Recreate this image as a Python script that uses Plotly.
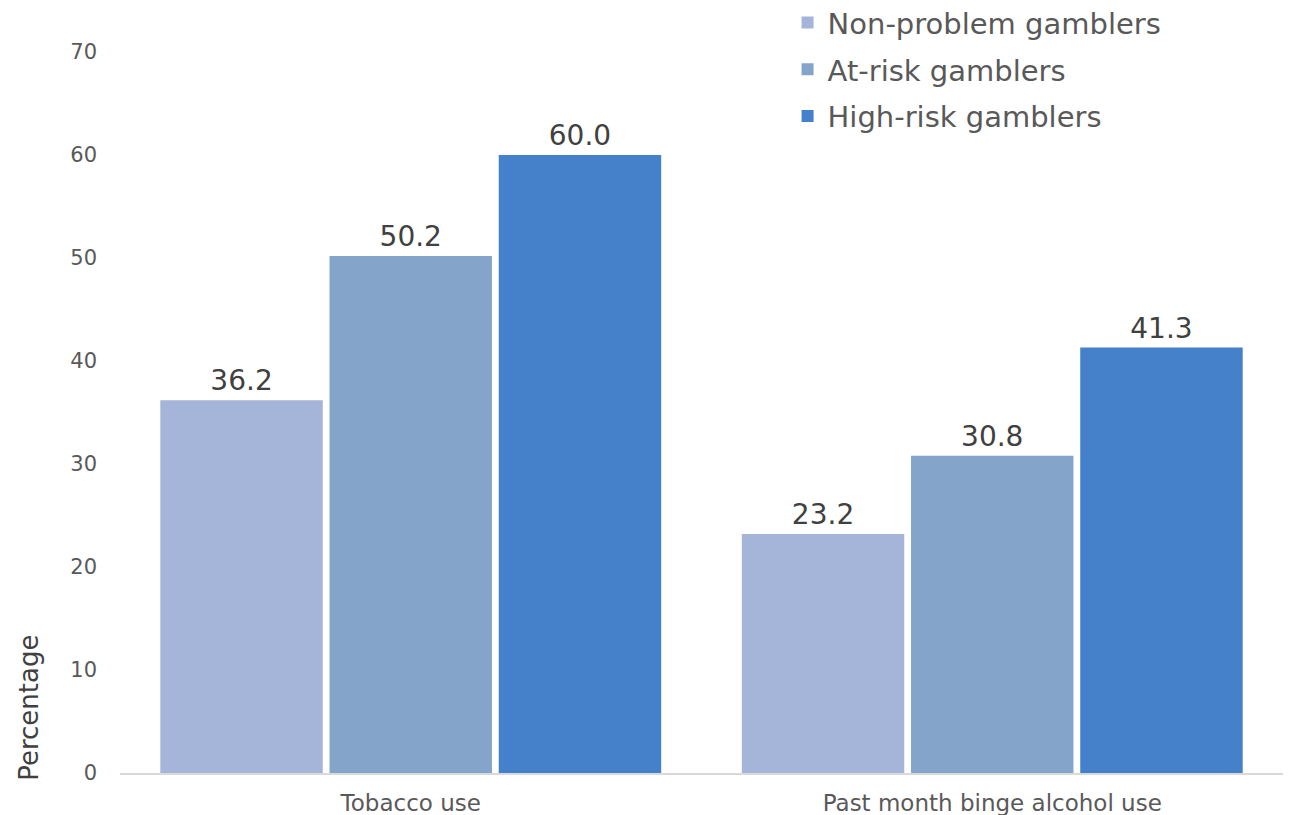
import plotly.graph_objects as go

categories = ["Tobacco use", "Past month binge alcohol use"]
series_names = ["Non-problem gamblers", "At-risk gamblers", "High-risk gamblers"]
non_problem = [36.2, 23.2]
at_risk = [50.2, 30.8]
high_risk = [60.0, 41.3]
y_ticks = [0, 10, 20, 30, 40, 50, 60, 70]

colors = ["#A4B5D9", "#84A4C9", "#4581CA"]
font_family = "'DejaVu Sans', sans-serif"

fig = go.Figure()
for i, (name, vals) in enumerate(zip(series_names, [non_problem, at_risk, high_risk])):
    fig.add_trace(go.Bar(
        x=categories, y=vals, name=name, legendgroup=name,
        marker=dict(color=colors[i], line=dict(width=0)),
        text=[f"{v:.1f}" for v in vals],
        textposition="outside",
        textfont=dict(size=28, color="#404040", family=font_family),
        cliponaxis=False,
    ))

fig.update_layout(
    width=1284, height=807,
    margin=dict(l=112, r=9, t=44, b=42, autoexpand=False),
    paper_bgcolor="white", plot_bgcolor="white",
    barmode="group", bargap=0.127, bargroupgap=0.04,
    font=dict(family=font_family, color="#595959"),
    showlegend=True,
    legend=dict(
        x=0.574, y=1.076, xanchor="left", yanchor="top",
        font=dict(size=29, color="#595959", family=font_family),
        tracegroupgap=6, bgcolor="rgba(0,0,0,0)",
        itemwidth=30,
    ),
    xaxis=dict(
        showgrid=False, showline=True, linecolor="#D9D9D9", linewidth=2,
        tickfont=dict(size=23, color="#595959"), ticks="", ticklabelstandoff=8,
    ),
    yaxis=dict(
        range=[0, 70], tickvals=y_ticks, showgrid=False, zeroline=False,
        showline=False, tickfont=dict(size=21, color="#595959"),
        ticks="", ticklabelstandoff=22,
    ),
    annotations=[dict(
        text="Percentage", textangle=-90, xref="paper", yref="paper",
        x=-0.0785, y=0.09, xanchor="center", yanchor="middle",
        showarrow=False, font=dict(size=26, color="#404040", family=font_family),
    )],
)

fig.write_html("out.html")
